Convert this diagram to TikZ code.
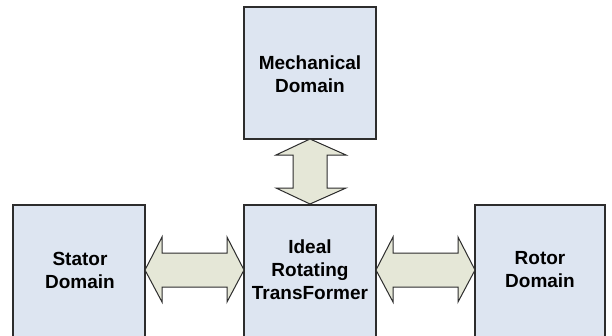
\documentclass[tikz,border=0pt]{standalone}
\usepackage{fontspec}
\setmainfont{Liberation Sans}
\definecolor{boxfill}{RGB}{221,229,241}
\definecolor{arrowfill}{RGB}{229,231,215}
\definecolor{edge}{RGB}{45,45,45}
\begin{document}
\begin{tikzpicture}[x=1pt,y=-1pt,
  domainbox/.style={draw=edge,line width=1.1pt,fill=boxfill},
  lbl/.style={align=center,font=\fontsize{19}{23}\selectfont\bfseries,text=black},
  dblarrow/.style={draw=edge,line width=1pt,fill=arrowfill,line join=miter}]
\clip (0,0) rectangle (612,335);
\fill[white] (0,0) rectangle (612,335);
% boxes
\draw[domainbox] (244,7) rectangle (376,139);
\draw[domainbox] (244,205) rectangle (376,345);
\draw[domainbox] (13,205) rectangle (145,345);
\draw[domainbox] (475,205) rectangle (605,345);
\node[lbl] (mech) at (310,74) {Mechanical\\Domain};
\node[lbl] (irt) at (310,270) {Ideal\\Rotating\\TransFormer};
\node[lbl] (stator) at (80,270) {Stator\\Domain};
\node[lbl] (rotor) at (540,270) {Rotor\\Domain};
% vertical double arrow
\draw[dblarrow] (310,139) -- (346,155) -- (327,155) -- (327,188) -- (346,188)
  -- (310,204) -- (276,188) -- (293,188) -- (293,155) -- (276,155) -- cycle;
% left double arrow
\draw[dblarrow] (145,270) -- (162,237) -- (162,253) -- (227,253) -- (227,237)
  -- (244,270) -- (227,302) -- (227,287) -- (162,287) -- (162,302) -- cycle;
% right double arrow
\draw[dblarrow] (376,270) -- (393,237) -- (393,253) -- (458,253) -- (458,237)
  -- (475,270) -- (458,302) -- (458,287) -- (393,287) -- (393,302) -- cycle;
\end{tikzpicture}
\end{document}
